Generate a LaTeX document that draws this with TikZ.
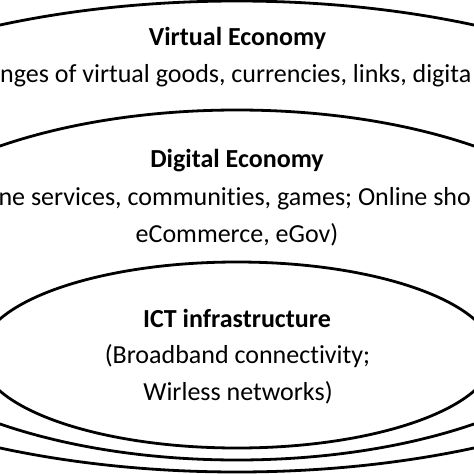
\documentclass[tikz,border=0pt]{standalone}
\usepackage{fontspec}
\setmainfont{Carlito}[Ligatures=NoCommon]
\begin{document}
\begin{tikzpicture}[x=1pt,y=-1pt,
  ring/.style={draw=black,line width=2.8pt},
  lbl/.style={inner sep=0pt,anchor=base,font=\fontsize{26}{30}\selectfont},
  ttl/.style={lbl,font=\fontsize{26}{30}\selectfont\bfseries}]
\useasboundingbox (0,0) rectangle (474,474);
\clip (0,0) rectangle (474,474);
\fill[white] (0,0) rectangle (474,474);
% rings
\draw[ring] (237,236.5) ellipse [x radius=538pt, y radius=235.5pt];
\draw[ring] (237,285) ellipse [x radius=390pt, y radius=175pt];
\draw[ring] (237,355) ellipse [x radius=257pt, y radius=93pt];
% texts
\node[ttl] (ve) at (237.5,45) {Virtual Economy};
\node[lbl,anchor=base west] (ved) at (0,82) {nges of virtual goods, currencies, links, digita};
\node[ttl] (de) at (237,167) {Digital Economy};
\node[lbl,anchor=base east] (ded1) at (471,205) {ne services, communities, games; Online sho};
\node[lbl] (ded2) at (237,242) {eCommerce, eGov)};
\node[ttl] (ict) at (237,327) {ICT infrastructure};
\node[lbl] (ictd1) at (237.5,363) {(Broadband connectivity;};
\node[lbl] (ictd2) at (238,400) {Wirless networks)};
\end{tikzpicture}
\end{document}
